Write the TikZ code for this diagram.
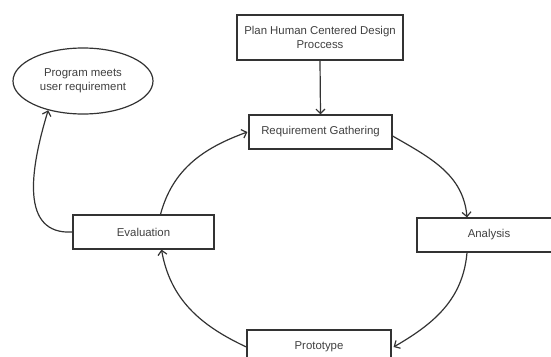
\documentclass[tikz,border=0pt]{standalone}
\usepackage{fontspec}
\setmainfont{Liberation Sans}
\usetikzlibrary{shapes.geometric,arrows.meta}
\definecolor{linec}{HTML}{333333}
\definecolor{textc}{HTML}{404040}
\tikzset{
  box/.style={draw=linec, line width=1.2pt, minimum width=143pt, minimum height=34pt, inner sep=0pt, text=textc, font=\fontsize{11.4}{13.5}\selectfont, align=center},
  oval/.style={ellipse, draw=linec, line width=1.2pt, minimum width=140pt, minimum height=66pt, inner sep=0pt, text=textc, font=\fontsize{11.4}{14}\selectfont, align=center},
  conn/.style={draw=linec, line width=1.2pt, -{Straight Barb[length=4.5pt,width=9pt]}}
}
\begin{document}
\begin{tikzpicture}[x=1pt,y=-1pt]
\useasboundingbox (0,0) rectangle (551,356);
\clip (0,0) rectangle (551,356);
\node[box, minimum width=166pt, minimum height=45pt] (plan) at (320,37.5) {Plan Human Centered Design\\Proccess};
\node[oval] (ell) at (83,81) {Program meets\\user requirement};
\node[box] (req) at (320.5,132) {Requirement Gathering};
\node[box, minimum width=141pt] (eval) at (143.5,232) {Evaluation};
\node[box, minimum width=144pt] (ana) at (489,235) {Analysis};
\node[box, minimum width=144pt] (proto) at (319,347) {Prototype};

\coordinate (reqout) at ([yshift=-4pt]req.east);
\coordinate (anain) at ([xshift=-22pt]ana.north);
\coordinate (anaout) at ([xshift=-22pt]ana.south);
\coordinate (protoin) at ([xshift=2pt]proto.east);
\coordinate (evalin) at ([xshift=18pt]eval.south);
\coordinate (evalout) at ([xshift=17pt]eval.north);
\coordinate (reqin) at ([xshift=-1pt]req.west);

\draw[conn] (plan.south) -- (req.north);
\draw[conn] (reqout) to[out=-30,in=95] (anain);
\draw[conn] (anaout) to[out=-95,in=30] (protoin);
\draw[conn] (proto.west) to[out=155,in=-80] (evalin);
\draw[conn] (evalout) to[out=75,in=200] (reqin);
\draw[conn] (eval.west) .. controls (20,235) and (30,170) .. (ell.220);
\end{tikzpicture}
\end{document}
